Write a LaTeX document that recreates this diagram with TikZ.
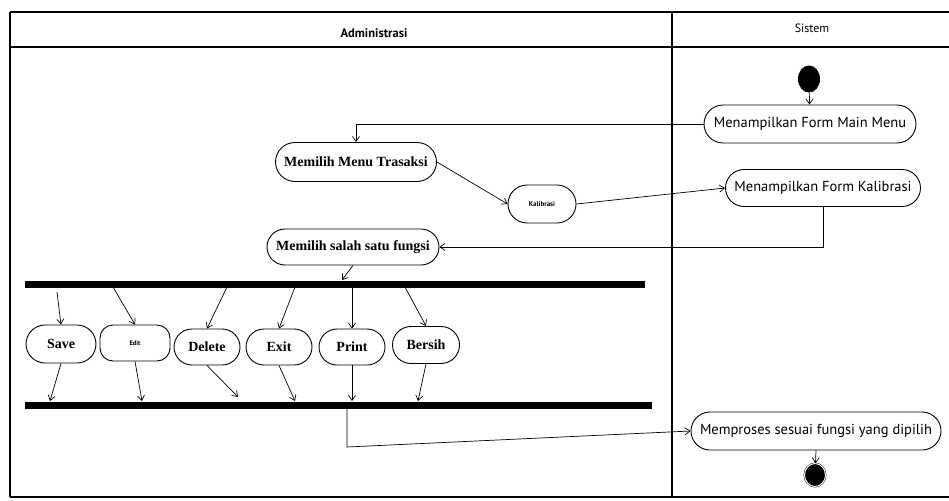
\documentclass[tikz,border=0pt]{standalone}
\usepackage{fontspec}
\setmainfont{Liberation Serif}
\setsansfont{PT Sans}
\usetikzlibrary{shapes.misc,shapes.geometric,arrows.meta}

\begin{document}
\begin{tikzpicture}[x=1pt,y=-1pt,
  act/.style={draw,rounded rectangle,line width=0.9pt,inner sep=1pt,
    minimum height=37pt,font=\bfseries\fontsize{14}{16}\selectfont},
  sact/.style={act,font=\sffamily\fontsize{14.5}{16}\selectfont},
  tiny/.style={act,font=\sffamily\bfseries\fontsize{7}{8}\selectfont},
  bar/.style={fill=black,inner sep=0pt,minimum height=7pt},
  flow/.style={-{Straight Barb[length=5pt,width=7pt]},line width=0.7pt},
  lane/.style={line width=1.1pt}]
  \useasboundingbox (0,0) rectangle (949,500);

  % swimlanes
  \draw[lane] (10,12) -- (949,12);
  \draw[lane] (10,47) -- (949,47);
  \draw[lane] (10,497) -- (949,497);
  \draw[lane] (10,12) -- (10,497);
  \draw[lane] (672,12) -- (672,497);
  \node[font=\sffamily\bfseries\fontsize{12.5}{14}\selectfont] (admin) at (374,33) {Administrasi};
  \node[font=\sffamily\fontsize{12}{14}\selectfont] (sistem) at (812,28) {Sistem};

  % start and end
  \node[ellipse,fill=black,inner sep=0pt,minimum width=22pt,minimum height=27pt] (start) at (809,79) {};
  \node[ellipse,fill=black,draw,double,double distance=1pt,inner sep=0pt,
    minimum width=21pt,minimum height=23pt] (stop) at (815,475) {};

  % activities
  \node[sact,minimum width=214pt,minimum height=38pt] (mainmenu) at (810,124) {Menampilkan Form Main Menu};
  \node[act,minimum width=163pt,minimum height=39pt] (pilihmenu) at (356,162) {Memilih Menu Trasaksi};
  \node[tiny,minimum width=70pt,minimum height=38pt] (kalibrasi) at (542,204) {Kalibrasi};
  \node[sact,minimum width=197pt] (formkal) at (823,188) {Menampilkan Form Kalibrasi};
  \node[act,minimum width=174pt,minimum height=36pt] (pilihfungsi) at (353,247) {Memilih salah satu fungsi};
  \node[sact,minimum width=252pt,minimum height=38pt] (proses) at (816,431) {Memproses sesuai fungsi yang dipilih};

  \node[act,minimum width=72pt,minimum height=38pt] (save) at (61,344) {Save};
  \node[draw,rounded corners=13pt,line width=0.9pt,minimum width=70pt,minimum height=36pt,
    font=\sffamily\bfseries\fontsize{6.5}{7}\selectfont] (edit) at (135,343) {Edit};
  \node[act,minimum width=68pt,minimum height=36pt] (delete) at (207,347) {Delete};
  \node[act,minimum width=68pt,minimum height=36pt] (exit) at (279,347) {Exit};
  \node[act,minimum width=68pt,minimum height=36pt] (print) at (352,347) {Print};
  \node[act,minimum width=69pt,minimum height=37pt] (bersih) at (426,345) {Bersih};

  % fork and join
  \node[bar,minimum width=620pt] (fork) at (335,284) {};
  \node[bar,minimum width=627pt] (join) at (338.5,405) {};

  \coordinate (in) at (342,280);
  \coordinate (o1) at (57,292);
  \coordinate (o2) at (113,287);
  \coordinate (o3) at (227,287);
  \coordinate (o4) at (295,287);
  \coordinate (o5) at (352,287);
  \coordinate (o6) at (405,287);
  \coordinate (i1) at (50,401);
  \coordinate (i2) at (142,401);
  \coordinate (i3) at (238,397);
  \coordinate (i4) at (295,401);
  \coordinate (i5) at (352,401);
  \coordinate (i6) at (418,401);
  \coordinate (out) at (347,408);
  \coordinate (bend) at (347,447);

  % flows
  \draw[flow] (start) -- (mainmenu);
  \draw[flow] (mainmenu.west) -| (pilihmenu.north);
  \draw[flow] (pilihmenu.east) -- (kalibrasi.west);
  \draw[flow] (kalibrasi.east) -- (formkal.west);
  \draw[flow] (formkal.south) |- (pilihfungsi.east);
  \draw[flow] (pilihfungsi.south) -- (in);

  \draw[flow] (o1) -- (save.north);
  \draw[flow] (o2) -- (edit.north);
  \draw[flow] (o3) -- (delete.north);
  \draw[flow] (o4) -- (exit.north);
  \draw[flow] (o5) -- (print.north);
  \draw[flow] (o6) -- (bersih.north);

  \draw[flow] (save.south) -- (i1);
  \draw[flow] (edit.south) -- (i2);
  \draw[flow] (delete.south) -- (i3);
  \draw[flow] (exit.south) -- (i4);
  \draw[flow] (print.south) -- (i5);
  \draw[flow] (bersih.south) -- (i6);

  \draw[flow] (out) -- (bend) -- (proses.west);
  \draw[flow] (proses.south) -- (stop);
\end{tikzpicture}
\end{document}
